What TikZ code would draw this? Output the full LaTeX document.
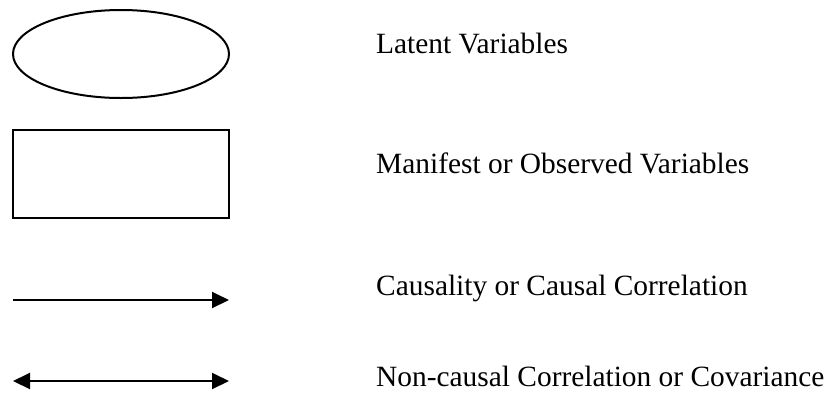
\documentclass[tikz,border=0pt]{standalone}
\usepackage{fontspec}
\setmainfont{Liberation Serif}
\usetikzlibrary{shapes.geometric,arrows.meta}
\tikzset{
  shapebox/.style={draw=black,line width=2pt,inner sep=0pt,minimum width=216pt,minimum height=88pt},
  latentshape/.style={shapebox,ellipse},
  manifestshape/.style={shapebox,rectangle},
  legendtext/.style={anchor=base west,inner sep=0pt,font=\fontsize{29.4}{35}\selectfont},
  tiphead/.tip={Triangle[length=17pt,width=16pt]},
  causal/.style={line width=2pt,-tiphead},
  noncausal/.style={line width=2pt,tiphead-tiphead}
}
\begin{document}
\begin{tikzpicture}[x=1pt,y=-1pt]
  \useasboundingbox (0,0) rectangle (829,392);
  % legend symbols
  \node[latentshape] (lat) at (121,54) {};
  \node[manifestshape] (man) at (121,174) {};
  \coordinate (cs) at (13,300);
  \coordinate (ce) at (229,300);
  \draw[causal] (cs) -- (ce);
  \coordinate (ns) at (13,381);
  \coordinate (ne) at (229,381);
  \draw[noncausal] (ns) -- (ne);
  % legend descriptions
  \node[legendtext] (tlat) at (376,53) {Latent Variables};
  \node[legendtext] (tman) at (376,173) {Manifest or Observed Variables};
  \node[legendtext] (tcau) at (376,295) {Causality or Causal Correlation};
  \node[legendtext] (tnon) at (376,386) {Non-causal Correlation or Covariance};
\end{tikzpicture}
\end{document}
